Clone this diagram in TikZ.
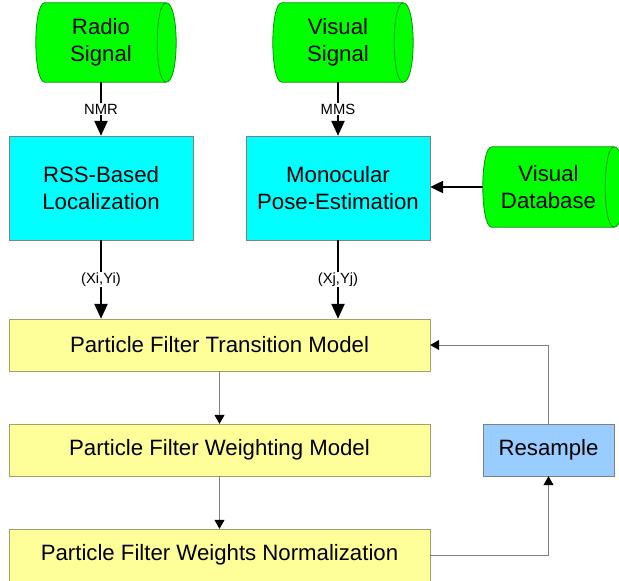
\documentclass[tikz,border=0pt]{standalone}
\usepackage{fontspec}
\setmainfont{Liberation Sans}
\usetikzlibrary{arrows.meta,backgrounds}
\definecolor{cylfill}{RGB}{0,255,0}
\definecolor{cylline}{RGB}{0,150,0}
\definecolor{boxcyan}{RGB}{0,255,255}
\definecolor{boxline}{RGB}{128,128,128}
\definecolor{pffill}{RGB}{255,255,153}
\definecolor{pfline}{RGB}{160,160,110}
\definecolor{resfill}{RGB}{153,204,255}
\definecolor{thinline}{RGB}{128,128,128}
\begin{document}
\begin{tikzpicture}[x=1pt,y=-1pt,
  bigtext/.style={font=\fontsize{22.2}{26.5}\selectfont},
  cyltext/.style={bigtext,align=center,inner sep=0pt,minimum height=79pt},
  cyanbox/.style={bigtext,align=center,draw=boxline,fill=boxcyan,inner sep=0pt,minimum width=184pt,minimum height=104pt},
  pfbox/.style={bigtext,draw=pfline,fill=pffill,inner sep=0pt,minimum width=421pt,minimum height=52pt},
  resbox/.style={bigtext,draw=boxline,fill=resfill,inner sep=0pt,minimum width=131pt,minimum height=52pt},
  thickarrow/.style={draw=black,line width=2.3pt,-{Triangle[length=15pt,width=13pt]}},
  sidearrow/.style={draw=black,line width=2.3pt,-{Triangle[length=13pt,width=12pt]}},
  thinarrow/.style={draw=thinline,line width=1pt,-{Triangle[length=9pt,width=10pt,color=black]}},
  lbl/.style={fill=white,inner sep=1pt,font=\fontsize{14.8}{16}\selectfont},
  cylshape/.style={fill=cylfill,draw=cylline,line width=0.8pt}
]
\useasboundingbox (0,0) rectangle (619,581);

% cylinder text nodes
\node[cyltext,minimum width=130pt] (radio) at (101,42.5) {Radio\\Signal};
\node[cyltext,minimum width=130pt] (vsig) at (338,42.5) {Visual\\Signal};
\node[cyltext,minimum width=131pt,minimum height=80pt] (vdb) at (548.5,187) {Visual\\Database};

% boxes
\node[cyanbox] (rss) at (101,188) {RSS-Based\\Localization};
\node[cyanbox] (mono) at (338,188) {Monocular\\Pose-Estimation};
\node[pfbox] (pf1) at (219.5,345) {Particle Filter Transition Model};
\node[pfbox] (pf2) at (219.5,450) {Particle Filter Weighting Model};
\node[pfbox] (pf3) at (219.5,555) {Particle Filter Weights Normalization};
\node[resbox] (res) at (548.5,450) {Resample};

% cylinder outlines
\begin{scope}[on background layer]
\foreach \n in {radio,vsig,vdb}{
  \path[cylshape] ([xshift=9pt]\n.north west) -- (\n.north east)
    .. controls +(13.3,0) and +(13.3,0) .. (\n.south east)
    -- ([xshift=9pt]\n.south west)
    .. controls +(-12,0) and +(-12,0) .. ([xshift=9pt]\n.north west) -- cycle;
  \draw[cylline,line width=0.8pt] (\n.north east) .. controls +(-12,0) and +(-12,0) .. (\n.south east);
}
\end{scope}

% connectors
\draw[thickarrow] (radio.south) -- node[lbl]{NMR} (radio.south |- rss.north);
\draw[thickarrow] (vsig.south) -- node[lbl]{MMS} (vsig.south |- mono.north);
\draw[sidearrow] (vdb.west) -- (vdb.west -| mono.east);
\draw[thickarrow] (rss.south) -- node[lbl]{(Xi,Yi)} (rss.south |- pf1.north);
\draw[thickarrow] (mono.south) -- node[lbl]{(Xj,Yj)} (mono.south |- pf1.north);
\draw[thinarrow] (pf1.south) -- (pf2.north);
\draw[thinarrow] (pf2.south) -- (pf3.north);
\draw[thinarrow] (pf3.east) -| (res.south);
\draw[thinarrow] (res.north) |- (pf1.east);
\end{tikzpicture}
\end{document}
